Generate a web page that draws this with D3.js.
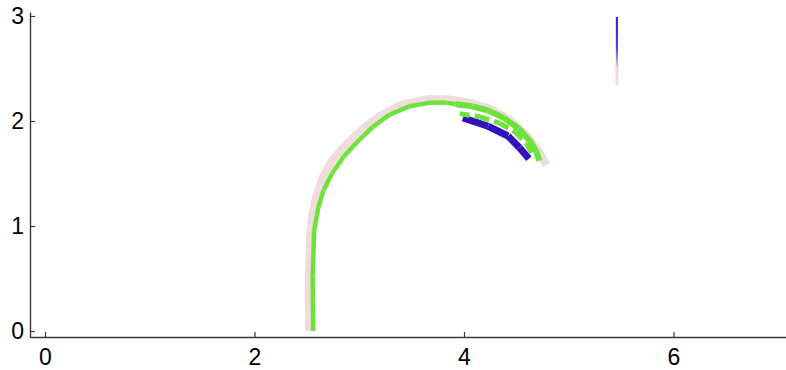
<!DOCTYPE html>
<html>
<head>
<meta charset="utf-8">
<script src="https://cdn.jsdelivr.net/npm/d3@7"></script>
<style>
  html, body { margin: 0; padding: 0; background: #fff; }
  svg { display: block; }
  .tick text { font-family: "Liberation Sans", Arial, sans-serif; }
</style>
</head>
<body>
<svg id="chart" width="786" height="370"></svg>
<script>
// Outer (pale) track of the trajectory
const trackX = [2.52, 2.52, 2.53, 2.55, 2.59, 2.65, 2.74, 2.87, 3.03, 3.20, 3.40, 3.66, 3.86, 4.06, 4.25, 4.44, 4.60, 4.72, 4.79];
const trackY = [0.00, 0.50, 0.90, 1.10, 1.29, 1.46, 1.62, 1.77, 1.92, 2.05, 2.155, 2.21, 2.205, 2.175, 2.115, 2.01, 1.86, 1.70, 1.58];

// Main green ribbon (rising part and crest)
const greenX = [2.56, 2.555, 2.57, 2.61, 2.66, 2.74, 2.85, 2.98, 3.13, 3.29, 3.48, 3.68, 3.83, 3.92];
const greenY = [0.00, 0.52, 0.96, 1.18, 1.34, 1.50, 1.66, 1.80, 1.945, 2.06, 2.14, 2.175, 2.175, 2.16];

// Outer green ribbon along the descending end
const tailGreenX = [3.92, 4.08, 4.23, 4.38, 4.52, 4.63, 4.69, 4.72];
const tailGreenY = [2.16, 2.14, 2.10, 2.03, 1.93, 1.81, 1.71, 1.62];

// Inner green ribbon near the end of the path
const innerGreenX = [3.96, 4.15, 4.34, 4.49, 4.60, 4.67];
const innerGreenY = [2.07, 2.04, 1.98, 1.895, 1.78, 1.65];

// Blue ribbon near the end of the path
const blueX = [3.99, 4.23, 4.42, 4.53, 4.62];
const blueY = [2.03, 1.95, 1.857, 1.745, 1.64];

// Isolated vertical stroke
const stemX = [5.46, 5.46];
const stemBlueY = [2.99, 2.50];
const stemPaleY = [2.55, 2.34];

const xTicks = [0, 2, 4, 6];
const yTicks = [0, 1, 2, 3];

const svg = d3.select("#chart");
const x = d3.scaleLinear().domain([-0.1432, 7.074]).range([30, 786]);
const y = d3.scaleLinear().domain([-0.0571, 3.038]).range([337, 12]);

const pts = (xs, ys) => xs.map((v, i) => [v, ys[i]]);
const line = d3.line().x(d => x(d[0])).y(d => y(d[1]));

// pale outer track
svg.append("path")
  .attr("d", line(pts(trackX, trackY)))
  .attr("fill", "none")
  .attr("stroke", "#f0dcda")
  .attr("stroke-width", 8)
  .attr("stroke-linejoin", "miter");

// draw a ribbon as separate segments so joins stay faceted
function ribbon(xs, ys, color, w, dash) {
  const segs = d3.pairs(pts(xs, ys));
  svg.append("g").selectAll("line").data(segs).join("line")
    .attr("x1", d => x(d[0][0])).attr("y1", d => y(d[0][1]))
    .attr("x2", d => x(d[1][0])).attr("y2", d => y(d[1][1]))
    .attr("stroke", color)
    .attr("stroke-width", w)
    .attr("stroke-linecap", "butt")
    .attr("stroke-dasharray", dash || null);
}

ribbon(blueX, blueY, "#3311bb", 7);
ribbon(innerGreenX, innerGreenY, "#6ee23c", 5, "10 5");
ribbon(tailGreenX, tailGreenY, "#6ee23c", 6);
ribbon(greenX, greenY, "#6ee23c", 4.5);

// vertical stroke
svg.append("line")
  .attr("x1", x(stemX[0])).attr("x2", x(stemX[1]))
  .attr("y1", y(stemPaleY[0])).attr("y2", y(stemPaleY[1]))
  .attr("stroke", "#f0dcda").attr("stroke-width", 3);
const grad = svg.append("defs").append("linearGradient")
  .attr("id", "stemGrad").attr("gradientUnits", "userSpaceOnUse")
  .attr("x1", 0).attr("x2", 0)
  .attr("y1", y(stemBlueY[0])).attr("y2", y(stemBlueY[1]));
grad.append("stop").attr("offset", 0).attr("stop-color", "#3a22cc");
grad.append("stop").attr("offset", 0.6).attr("stop-color", "#5544dd");
grad.append("stop").attr("offset", 1).attr("stop-color", "#e8d8ee");
svg.append("line")
  .attr("x1", x(stemX[0])).attr("x2", x(stemX[1]))
  .attr("y1", y(stemBlueY[0])).attr("y2", y(stemBlueY[1]))
  .attr("stroke", "url(#stemGrad)").attr("stroke-width", 2.2);

// axes
const xAxis = d3.axisBottom(x).tickValues(xTicks).tickFormat(d3.format("d"))
  .tickSizeInner(-5).tickSizeOuter(0).tickPadding(12);
const yAxis = d3.axisLeft(y).tickValues(yTicks).tickFormat(d3.format("d"))
  .tickSizeInner(-5).tickSizeOuter(0).tickPadding(6);

const gx = svg.append("g").attr("transform", "translate(0,337)").call(xAxis);
const gy = svg.append("g").attr("transform", "translate(30,0)").call(yAxis);

[gx, gy].forEach(g => {
  g.select(".domain").attr("stroke", "#3a3a3a").attr("stroke-width", 1.4);
  g.selectAll(".tick line").attr("stroke", "#3a3a3a").attr("stroke-width", 1.2);
  g.selectAll(".tick text").attr("fill", "#000").attr("font-size", 23);
});
</script>
</body>
</html>
